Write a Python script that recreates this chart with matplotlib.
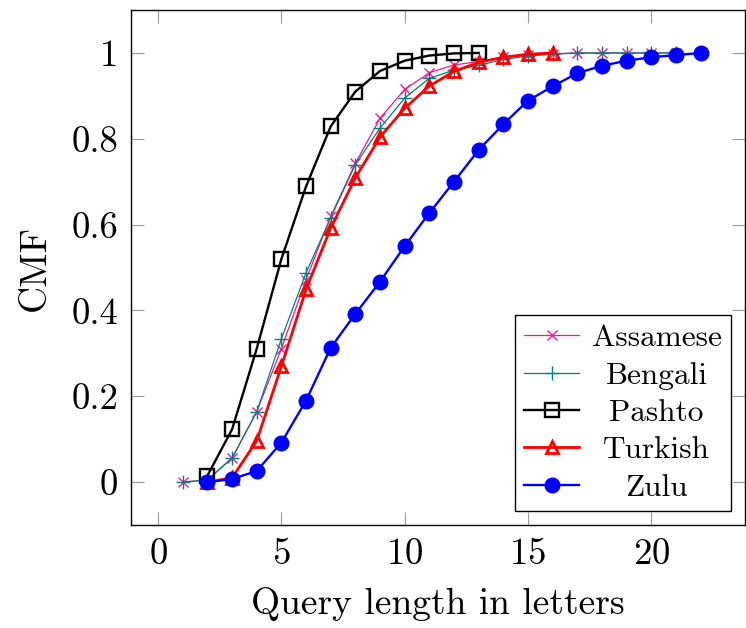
import numpy as np
import matplotlib
matplotlib.use('Agg')
import matplotlib.pyplot as plt
from matplotlib.ticker import FixedLocator, FixedFormatter

plt.rcParams['font.family'] = 'cmr10'
plt.rcParams['mathtext.fontset'] = 'cm'
plt.rcParams['axes.formatter.use_mathtext'] = True

# query length (letters) -> cumulative mass
assamese_x = list(range(1, 22))
assamese_y = [0.0, 0.005, 0.056, 0.164, 0.311, 0.472, 0.619, 0.743, 0.848, 0.915,
              0.954, 0.972, 0.98, 0.99, 0.995, 0.998, 1.0, 1.0, 1.0, 1.0, 1.0]

bengali_x = list(range(1, 22))
bengali_y = [0.0, 0.005, 0.056, 0.164, 0.334, 0.488, 0.616, 0.74, 0.825, 0.895,
             0.941, 0.96, 0.971, 0.985, 0.993, 0.997, 1.0, 1.0, 1.0, 1.0, 1.0]

pashto_x = list(range(2, 14))
pashto_y = [0.015, 0.123, 0.311, 0.52, 0.689, 0.829, 0.91, 0.958, 0.982, 0.994, 0.999, 1.0]

turkish_x = list(range(2, 17))
turkish_y = [0.0, 0.01, 0.096, 0.27, 0.449, 0.592, 0.709, 0.804, 0.871, 0.923,
             0.957, 0.978, 0.99, 0.997, 1.0]

zulu_x = list(range(2, 23))
zulu_y = [0.0, 0.007, 0.026, 0.092, 0.19, 0.313, 0.392, 0.467, 0.55, 0.627, 0.70,
          0.774, 0.834, 0.889, 0.922, 0.953, 0.970, 0.982, 0.990, 0.995, 1.0]

xticks = [0, 5, 10, 15, 20]
yticks = [0, 0.2, 0.4, 0.6, 0.8, 1.0]
yticklabels = ['0', '0.2', '0.4', '0.6', '0.8', '1']

fig = plt.figure(figsize=(7.46, 6.28), dpi=100)
ax = fig.add_axes([0.1756, 0.164, 0.823, 0.820])

ax.plot(assamese_x, assamese_y, color='#f0189a', lw=0.9, marker='x', ms=7,
        mew=1.0, label='Assamese')
ax.plot(bengali_x, bengali_y, color='#008080', lw=0.9, marker='+', ms=10,
        mew=1.0, label='Bengali')
ax.plot(pashto_x, pashto_y, color='black', lw=1.7, marker='s', ms=10,
        mfc='none', mew=1.7, label='Pashto')
ax.plot(turkish_x, turkish_y, color='red', lw=2.0, marker='^', ms=9,
        mfc='none', mew=2.0, label='Turkish')
ax.plot(zulu_x, zulu_y, color='blue', lw=1.7, marker='o', ms=10.5,
        label='Zulu')

ax.set_xlim(-1.1, 23.8)
ax.set_ylim(-0.1, 1.1)
ax.xaxis.set_major_locator(FixedLocator(xticks))
ax.yaxis.set_major_locator(FixedLocator(yticks))
ax.yaxis.set_major_formatter(FixedFormatter(yticklabels))
ax.tick_params(direction='in', length=9.5, width=0.8, color='#999999',
               top=True, right=True, labelsize=26.5, pad=9)
for s in ax.spines.values():
    s.set_linewidth(1.0)

ax.set_xlabel('Query length in letters', fontsize=27, labelpad=12)
ax.set_ylabel('CMF', fontsize=27, labelpad=14)

leg = ax.legend(loc='lower right', fontsize=22.5, fancybox=False, edgecolor='black',
                framealpha=1, handlelength=1.75, handletextpad=0.4,
                labelspacing=0.3, borderpad=0.3, borderaxespad=0.45)
leg.get_frame().set_linewidth(1.0)

# centre the legend entries like pgfplots does
fig.canvas.draw()
r = fig.canvas.get_renderer()
widths = [t.get_window_extent(r).width for t in leg.get_texts()]
for t, w in zip(leg.get_texts(), widths):
    t.set_x((max(widths) - w) / 2)

fig.savefig('out.png', dpi=100)
